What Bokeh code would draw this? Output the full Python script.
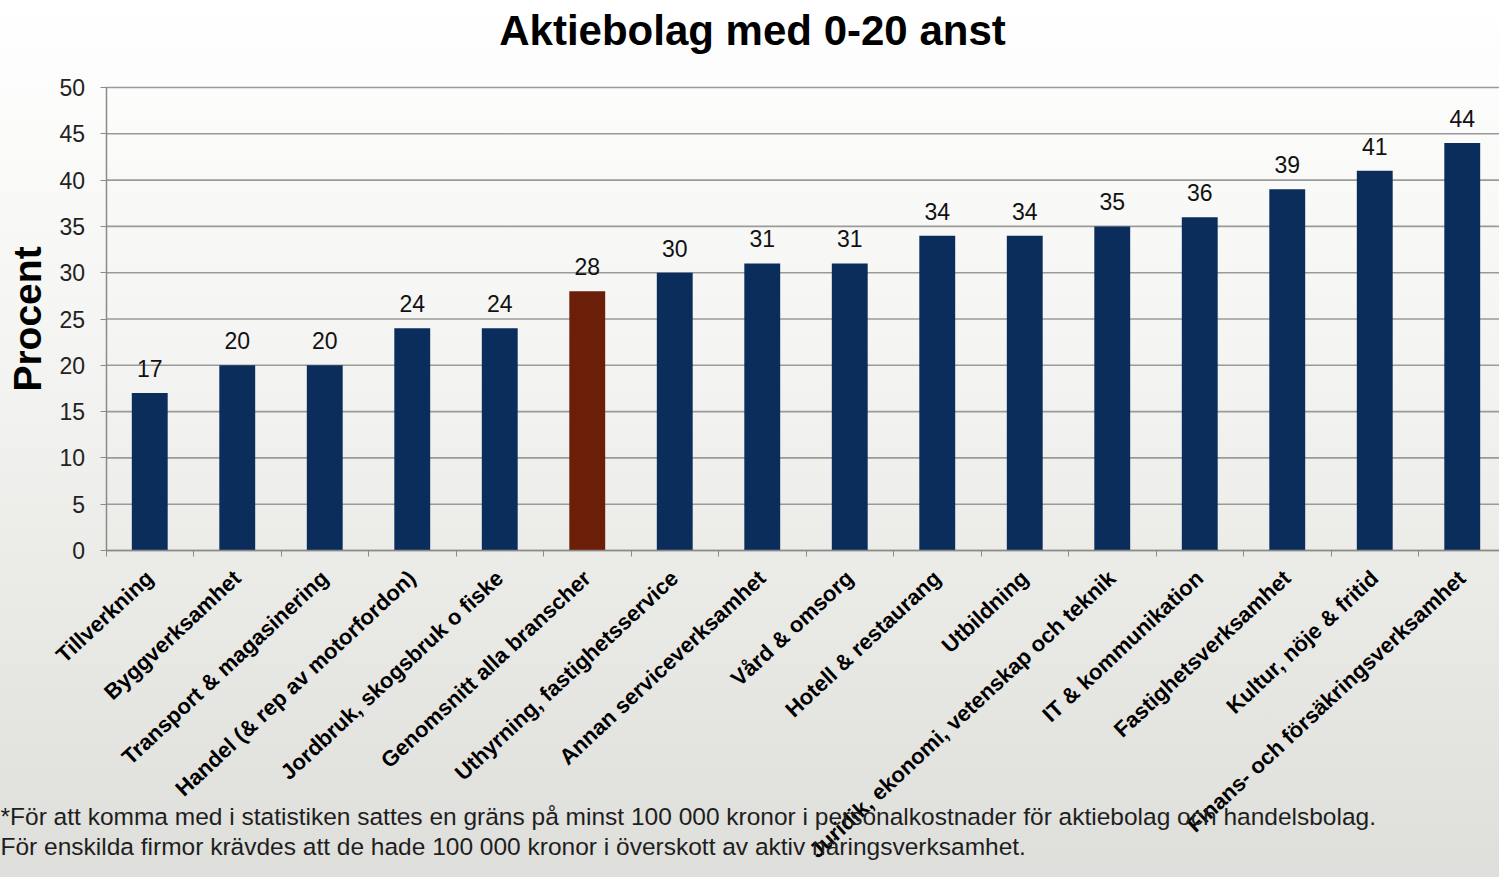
import math
from bokeh.plotting import figure
from bokeh.models import (ColumnDataSource, Range1d, FixedTicker, LabelSet, Label)
from bokeh.core.properties import value
from bokeh.embed import file_html
from bokeh.resources import INLINE

# ---------------- data ----------------
categories = [
    "Tillverkning",
    "Byggverksamhet",
    "Transport & magasinering",
    "Handel (& rep av motorfordon)",
    "Jordbruk, skogsbruk o fiske",
    "Genomsnitt alla branscher",
    "Uthyrning, fastighetsservice",
    "Annan serviceverksamhet",
    "Vård & omsorg",
    "Hotell & restaurang",
    "Utbildning",
    "Juridik, ekonomi, vetenskap och teknik",
    "IT & kommunikation",
    "Fastighetsverksamhet",
    "Kultur, nöje & fritid",
    "Finans- och försäkringsverksamhet",
]
values = [17, 20, 20, 24, 24, 28, 30, 31, 31, 34, 34, 35, 36, 39, 41, 44]
highlight = "Genomsnitt alla branscher"
y_ticks = [0, 5, 10, 15, 20, 25, 30, 35, 40, 45, 50]
title_text = "Aktiebolag med 0-20 anst"
y_label = "Procent"
footnote_1 = ("*För att komma med i statistiken sattes en gräns på minst 100 000 kronor "
              "i personalkostnader för aktiebolag och handelsbolag.")
footnote_2 = "För enskilda firmor krävdes att de hade 100 000 kronor i överskott av aktiv näringsverksamhet."

NAVY = "#0b2d5c"
BROWN = "#6b1e08"
GRID = "#9a9a9a"
AXIS = "#8a8a8a"
FONT = "Liberation Sans"

idx = list(range(len(categories)))
colors = [BROWN if c == highlight else NAVY for c in categories]
src = ColumnDataSource(dict(x=idx, top=values, color=colors,
                            label=[str(v) for v in values]))

# ---------------- layout (pixels) ----------------
W, H = 1499, 877
AX_L = 105.5             # pixel x of the y axis
Y0_PX, Y50_PX = 550, 87  # pixel rows of 0 and 50 (from top)
cat_px = 87.5
ppu = (Y0_PX - Y50_PX) / 50.0

x_start = -0.5 - AX_L / cat_px
x_end = -0.5 + (W - AX_L) / cat_px
y_end = 50 + Y50_PX / ppu
y_start = -(H - Y0_PX) / ppu

p = figure(width=W, height=H, output_backend="svg", toolbar_location=None,
           x_range=Range1d(x_start, x_end), y_range=Range1d(y_start, y_end),
           min_border_left=0, min_border_right=0, min_border_top=0, min_border_bottom=0)
p.border_fill_color = None
p.background_fill_color = None
p.outline_line_color = None
p.styles = {"background": "linear-gradient(to bottom, #ffffff 0%, #f4f4f2 40%, #dededa 100%)"}
p.grid.visible = False

# horizontal gridlines (from the y tick values), behind the bars
p.segment(x0=[-0.5] * len(y_ticks), x1=[x_end] * len(y_ticks), y0=y_ticks, y1=y_ticks,
          line_color=GRID, line_width=1.6)

p.vbar(x="x", top="top", width=0.41, color="color", line_color=None, source=src)

labels = LabelSet(x="x", y="top", text="label", source=src, text_align="center",
                  text_baseline="alphabetic", y_offset=16,
                  text_font=value(FONT), text_font_size="23px", text_color="#111111")
p.add_layout(labels)

# y axis
p.yaxis.fixed_location = -0.5
p.yaxis.bounds = (0, 50)
p.yaxis.ticker = FixedTicker(ticks=y_ticks)
p.yaxis.axis_line_color = AXIS
p.yaxis.axis_line_width = 1.5
p.yaxis.major_tick_line_color = AXIS
p.yaxis.major_tick_out = 6
p.yaxis.major_tick_in = 0
p.yaxis.minor_tick_line_color = None
p.yaxis.major_label_text_font = FONT
p.yaxis.major_label_text_font_size = "23px"
p.yaxis.major_label_text_color = "#222222"
p.yaxis.major_label_standoff = 15
p.yaxis.axis_label = y_label
p.yaxis.axis_label_text_font = FONT
p.yaxis.axis_label_text_font_size = "39px"
p.yaxis.axis_label_text_font_style = "bold"
p.yaxis.axis_label_text_color = "#000000"
p.yaxis.axis_label_standoff = 8

# x axis
p.xaxis.fixed_location = 0
p.xaxis.bounds = (-0.5, x_end)
p.xaxis.ticker = FixedTicker(ticks=idx, minor_ticks=[i - 0.5 for i in idx] + [len(idx) - 0.5])
p.xaxis.major_label_overrides = {i: c for i, c in enumerate(categories)}
p.xaxis.major_label_orientation = math.radians(43)
p.xaxis.major_label_text_font = FONT
p.xaxis.major_label_text_font_size = "22px"
p.xaxis.major_label_text_font_style = "bold"
p.xaxis.major_label_text_color = "#000000"
p.xaxis.major_label_standoff = 18
p.xaxis.axis_line_color = AXIS
p.xaxis.axis_line_width = 1.5
p.xaxis.major_tick_line_color = None
p.xaxis.minor_tick_line_color = AXIS
p.xaxis.minor_tick_out = 6
p.xaxis.minor_tick_in = 0

# title
p.add_layout(Label(x=752, y=H - 30, x_units="screen", y_units="screen",
                   text=title_text, text_align="center", text_baseline="alphabetic",
                   text_font=FONT, text_font_size="42px", text_font_style="bold",
                   text_color="#000000"))

# footnotes
for txt, base in [(footnote_1, 816), (footnote_2, 846)]:
    p.add_layout(Label(x=0, y=H - base, x_units="screen", y_units="screen",
                       text=txt, text_align="left", text_baseline="alphabetic",
                       text_font=FONT, text_font_size="24.5px", text_color="#1e1e1e"))

open("out.html", "w").write(file_html(p, INLINE))
